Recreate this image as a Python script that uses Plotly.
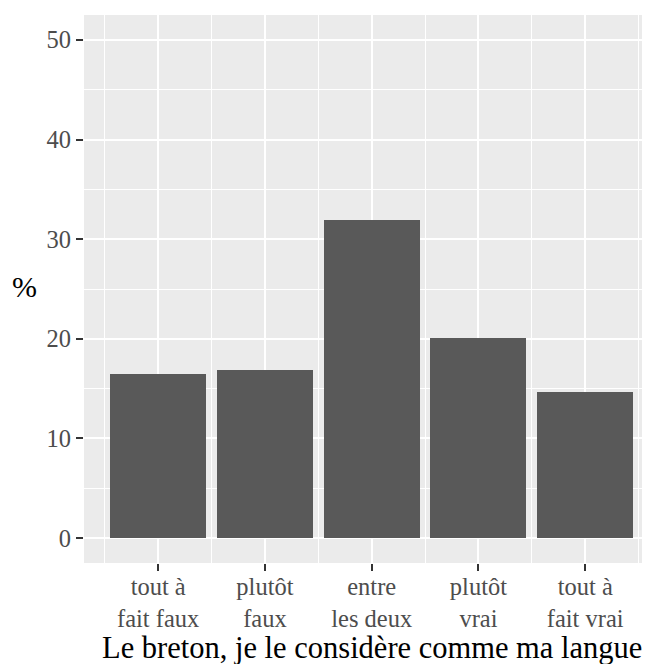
import plotly.graph_objects as go

categories = ["tout à<br>fait faux", "plutôt<br>faux", "entre<br>les deux", "plutôt<br>vrai", "tout à<br>fait vrai"]
positions = [1, 2, 3, 4, 5]
values = [16.5, 16.9, 31.9, 20.1, 14.7]
y_ticks = [0, 10, 20, 30, 40, 50]
x_title = "Le breton, je le considère comme ma langue"
y_title = "%"

FONT = "Liberation Serif, Times New Roman, serif"

fig = go.Figure()
fig.add_trace(go.Bar(
    x=positions, y=values, width=0.9,
    marker=dict(color="#595959", line=dict(width=0)),
    hoverinfo="skip",
))

fig.update_layout(
    width=642, height=656,
    margin=dict(l=76, r=0, t=7, b=101),
    paper_bgcolor="white",
    plot_bgcolor="#EBEBEB",
    showlegend=False,
    font=dict(family=FONT, size=24, color="#4D4D4D"),
    bargap=0,
)

fig.update_xaxes(
    range=[0.305, 5.607],
    tickmode="array", tickvals=positions, ticktext=categories,
    ticks="outside", ticklen=7, tickwidth=1.5, tickcolor="#333333",
    ticklabelstandoff=-5,
    showgrid=True, gridcolor="white", gridwidth=1.8,
    minor=dict(tick0=0.5, dtick=0.5, showgrid=True, gridcolor="white", gridwidth=0.8, ticks=""),
    zeroline=False, showline=False,
    tickfont=dict(family=FONT, size=24.5, color="#4D4D4D"),
)
fig.update_yaxes(
    range=[-2.5, 52.5],
    tickmode="array", tickvals=y_ticks,
    ticks="outside", ticklen=7, tickwidth=1.5, tickcolor="#333333",
    showgrid=True, gridcolor="white", gridwidth=1.8,
    minor=dict(tick0=5, dtick=5, showgrid=True, gridcolor="white", gridwidth=0.8, ticks=""),
    zeroline=False, showline=False,
    tickfont=dict(family=FONT, size=24.5, color="#4D4D4D"),
)

fig.add_annotation(
    text=x_title, xref="x", yref="paper", x=3, y=-0.155,
    xanchor="center", yanchor="middle", showarrow=False,
    font=dict(family=FONT, size=30.5, color="black"),
)
fig.add_annotation(
    text=y_title, xref="paper", yref="paper", x=-0.105, y=0.504,
    xanchor="center", yanchor="middle", showarrow=False,
    font=dict(family=FONT, size=30, color="black"),
)

fig.write_html("out.html")
